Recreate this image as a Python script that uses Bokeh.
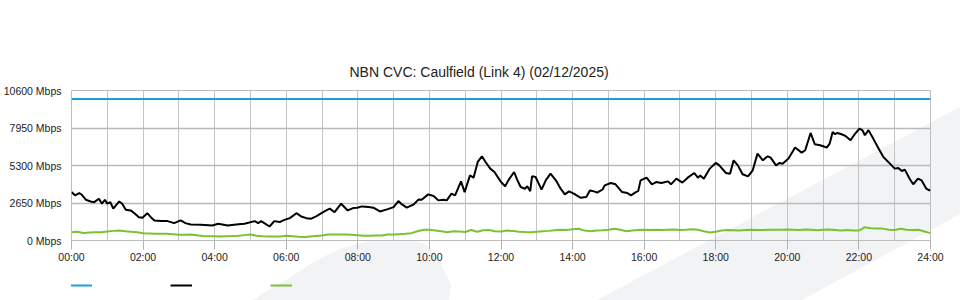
from bokeh.plotting import figure
from bokeh.models import Range1d, FixedTicker, Legend, LegendItem
from bokeh.layouts import column
from bokeh.embed import file_html
from bokeh.resources import INLINE

# ---------------- data ----------------
TITLE = "NBN CVC: Caulfield (Link 4) (02/12/2025)"

x_tick_hours = [0, 2, 4, 6, 8, 10, 12, 14, 16, 18, 20, 22, 24]
x_tick_labels = ["00:00", "02:00", "04:00", "06:00", "08:00", "10:00", "12:00",
                 "14:00", "16:00", "18:00", "20:00", "22:00", "24:00"]
y_ticks = [0, 2650, 5300, 7950, 10600]
y_tick_labels = ["0 Mbps", "2650 Mbps", "5300 Mbps", "7950 Mbps", "10600 Mbps"]

capacity_minutes = [0, 1440]
capacity_mbps = [10000, 10000]

inbound_minutes = [0, 6, 13, 17, 24, 32, 38, 46, 51, 56, 60, 65, 70, 80, 85, 91, 99, 105, 113, 119,
                   127, 133, 139, 150, 161, 172, 183, 191, 200, 217, 236, 246, 262, 276, 290, 307,
                   313, 318, 332, 340, 349, 357, 366, 377, 385, 394, 402, 410, 419, 427, 433, 441,
                   452, 463, 472, 479, 487, 498, 506, 517, 529, 540, 548, 554, 562, 573, 582, 587,
                   598, 607, 615, 623, 629, 637, 643, 653, 659, 668, 674, 681, 688, 694, 702, 709,
                   720, 727, 733, 742, 747, 753, 760, 764, 769, 772, 778, 788, 795, 803, 812, 820,
                   827, 834, 842, 853, 863, 869, 876, 881, 890, 894, 904, 912, 923, 932, 938, 946,
                   950, 954, 964, 973, 980, 989, 1000, 1005, 1014, 1024, 1033, 1044, 1050, 1054,
                   1060, 1070, 1080, 1086, 1097, 1104, 1110, 1117, 1125, 1134, 1142, 1150, 1159,
                   1167, 1172, 1181, 1187, 1192, 1202, 1213, 1224, 1230, 1239, 1246, 1255, 1266,
                   1271, 1276, 1280, 1284, 1291, 1298, 1306, 1313, 1321, 1326, 1330, 1336, 1344,
                   1352, 1361, 1372, 1380, 1386, 1392, 1397, 1405, 1411, 1419, 1425, 1433, 1438, 1440]
inbound_mbps = [3420, 3190, 3350, 3250, 2880, 2760, 2710, 2950, 2600, 2880, 2600, 2710, 2250, 2760,
                2600, 2175, 2125, 1940, 1650, 1610, 1930, 1650, 1420, 1370, 1370, 1230, 1420, 1230,
                1130, 1110, 1060, 1180, 1060, 1130, 1180, 1370, 1230, 1370, 990, 1370, 1300, 1460,
                1580, 1930, 1700, 1580, 1540, 1700, 1930, 2125, 2250, 2000, 2600, 2125, 2290, 2320,
                2410, 2360, 2320, 2055, 2200, 2360, 2785, 2550, 2320, 2530, 2905, 2880, 3260, 3140,
                2835, 2880, 2835, 3310, 3190, 4180, 3420, 4600, 4440, 5550, 5950, 5550, 5080, 4840,
                4130, 3830, 4300, 4840, 4300, 3780, 3660, 3830, 3490, 4535, 4490, 3590, 4250, 4730,
                4250, 3660, 3260, 3470, 3310, 3025, 3070, 3540, 3470, 3380, 3590, 3900, 4060, 3970,
                3420, 3350, 3190, 3420, 3490, 4250, 4440, 3970, 4130, 4060, 4180, 3970, 4370, 4090,
                4440, 4770, 4440, 4600, 4370, 5080, 5480, 5310, 4770, 4720, 5670, 5310, 4680, 4535,
                4960, 6140, 5670, 5950, 5860, 5310, 5480, 5430, 5790, 6570, 6210, 6380, 7600, 6800,
                6730, 6570, 6850, 7670, 7510, 7600, 7510, 7370, 7090, 7510, 7910, 7790, 7440, 7800,
                7200, 6570, 5900, 5430, 5080, 5130, 4910, 5010, 4370, 3970, 4370, 4250, 3660, 3540,
                3590]

outbound_minutes = list(range(0, 1441, 10))
outbound_mbps = [590, 620, 530, 560, 590, 590, 640, 680, 710, 650, 610, 580, 520, 500, 470, 470,
                 470, 440, 400, 400, 420, 370, 320, 300, 300, 290, 300, 310, 330, 380, 420, 340,
                 300, 290, 280, 280, 340, 300, 260, 240, 280, 320, 360, 420, 430, 420, 420, 400,
                 370, 340, 340, 350, 360, 420, 430, 450, 470, 520, 650, 760, 760, 710, 650, 590,
                 660, 640, 600, 740, 620, 720, 740, 660, 640, 700, 680, 620, 600, 590, 620, 650,
                 680, 720, 760, 740, 800, 830, 700, 660, 700, 720, 760, 830, 760, 660, 700, 740,
                 760, 740, 760, 750, 760, 770, 740, 760, 800, 760, 650, 560, 620, 700, 740, 720,
                 700, 740, 760, 740, 740, 760, 760, 760, 770, 760, 740, 770, 760, 720, 760, 780,
                 740, 700, 740, 700, 700, 940, 860, 850, 840, 760, 740, 830, 760, 740, 760, 640, 520]

# ---------------- style ----------------
W = 960
MAIN_H, LEGEND_H = 270, 30
FL, FR, FT, FB = 70, 930, 90, 240          # frame box in pixels
BLUE, BLACK, GREEN = "#1a9fe0", "#000000", "#7ac231"
FONT = "Liberation Sans"
WATERMARK_FILL = "%23f2f3f5"
# light background watermark shapes (page pixel coordinates)
WM_PATHS = [
    "M253 300 L272 288 L291 277 L307 266 L323 257 L340 249 L356 244 L372 241 L390 240 "
    "L408 240 L420 242 L430 247 L437 256 L442 267 L447 276 L451 285 L449 300 Z",
    "M597 300 L960 107 L960 214 L802 300 Z",
]
svg_bg = ("<svg xmlns='http://www.w3.org/2000/svg' width='960' height='300'>"
          + "".join(f"<path d='{d}' fill='{WATERMARK_FILL}'/>" for d in WM_PATHS)
          + "</svg>")

p = figure(width=W, height=MAIN_H, output_backend="svg", toolbar_location=None,
           x_range=Range1d(0, 24), y_range=Range1d(0, 10600),
           min_border_left=FL, min_border_right=W - FR,
           min_border_top=FT, min_border_bottom=MAIN_H - FB)
p.background_fill_alpha = 0
p.border_fill_alpha = 0
p.outline_line_color = "#bdbdbd"
p.outline_line_width = 1

# title
p.title.text = TITLE
p.title.align = "left"
p.title.offset = 278
p.title.standoff = 22
p.title.vertical_align = "bottom"
p.title.text_font = FONT
p.title.text_font_size = "14px"
p.title.text_font_style = "normal"
p.title.text_color = "#222222"

# x axis
p.xaxis.ticker = FixedTicker(ticks=x_tick_hours, minor_ticks=list(range(25)))
p.xaxis.major_label_overrides = {h: lab for h, lab in zip(x_tick_hours, x_tick_labels)}
p.xaxis.major_tick_in = 0
p.xaxis.major_tick_out = 9
p.xaxis.minor_tick_in = 0
p.xaxis.minor_tick_out = 0
p.xaxis.axis_line_color = "#bdbdbd"
p.xaxis.major_tick_line_color = "#b0b0b0"
p.xaxis.major_label_standoff = 1
p.xaxis.major_label_text_font = FONT
p.xaxis.major_label_text_font_size = "10.5px"
p.xaxis.major_label_text_color = "#222222"

# y axis
p.yaxis.ticker = FixedTicker(ticks=y_ticks, minor_ticks=[])
p.yaxis.major_label_overrides = {v: lab for v, lab in zip(y_ticks, y_tick_labels)}
p.yaxis.major_tick_in = 0
p.yaxis.major_tick_out = 0
p.yaxis.minor_tick_in = 0
p.yaxis.minor_tick_out = 0
p.yaxis.axis_line_color = None
p.yaxis.major_label_standoff = 10
p.yaxis.major_label_text_font = FONT
p.yaxis.major_label_text_font_size = "10.5px"
p.yaxis.major_label_text_color = "#222222"

# grids
p.xgrid.grid_line_color = "#c4c4c4"
p.xgrid.minor_grid_line_color = "#c4c4c4"
p.ygrid.grid_line_color = "#b9b9b9"
p.ygrid.grid_line_width = 1.5

p.line([m / 60 for m in capacity_minutes], capacity_mbps, line_color=BLUE, line_width=2)
p.line([m / 60 for m in outbound_minutes], outbound_mbps, line_color=GREEN, line_width=2)
p.line([m / 60 for m in inbound_minutes], inbound_mbps, line_color=BLACK, line_width=2)

# legend strip (swatches only, as in the original); its frame is aligned with the main frame
lg = figure(width=W, height=LEGEND_H, output_backend="svg", toolbar_location=None,
            x_range=Range1d(0, 1), y_range=Range1d(0, 1),
            x_axis_type=None, y_axis_type=None,
            min_border=0, min_border_left=0, min_border_right=0,
            min_border_top=0, min_border_bottom=0)
lg.title = None
lg.grid.visible = False
lg.outline_line_color = None
lg.background_fill_alpha = 0
lg.border_fill_alpha = 0
sw_cap = lg.line([0], [0], line_color=BLUE, line_width=2, visible=False)
sw_in = lg.line([0], [0], line_color=BLACK, line_width=2, visible=False)
sw_out = lg.line([0], [0], line_color=GREEN, line_width=2, visible=False)
legend = Legend(items=[LegendItem(label=" ", renderers=[sw_cap]),
                       LegendItem(label=" ", renderers=[sw_in]),
                       LegendItem(label=" ", renderers=[sw_out])],
                location=(-1, 10), orientation="horizontal",
                glyph_width=22, glyph_height=10, label_width=78, label_height=10,
                label_standoff=0, spacing=0, padding=0, margin=0,
                border_line_color=None, background_fill_alpha=0,
                label_text_font_size="1px",
                inactive_fill_alpha=0)
lg.add_layout(legend)

page = column(p, lg, spacing=0,
              styles={"background": f"#ffffff url(\"data:image/svg+xml;utf8,{svg_bg}\") no-repeat"})

open("out.html", "w").write(file_html(page, INLINE))
